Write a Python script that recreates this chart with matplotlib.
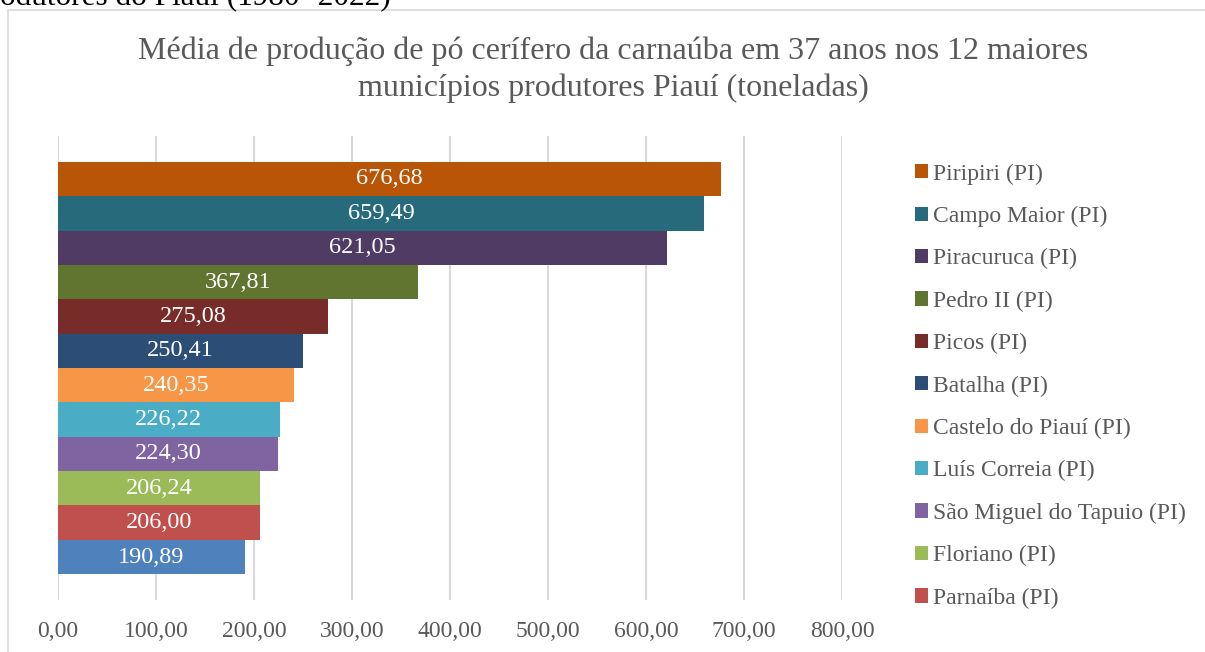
import matplotlib.pyplot as plt
from matplotlib.patches import Rectangle, Patch

municipios = ['Piripiri (PI)', 'Campo Maior (PI)', 'Piracuruca (PI)', 'Pedro II (PI)',
              'Picos (PI)', 'Batalha (PI)', 'Castelo do Piauí (PI)', 'Luís Correia (PI)',
              'São Miguel do Tapuio (PI)', 'Floriano (PI)', 'Parnaíba (PI)', '(sem legenda)']
medias = [676.68, 659.49, 621.05, 367.81, 275.08, 250.41, 240.35, 226.22,
          224.30, 206.24, 206.00, 190.89]
cores = ['#B85507', '#276A7C', '#4F3B63', '#5F7530', '#772C2A', '#2C4D75',
         '#F79646', '#4BACC6', '#8064A2', '#9BBB59', '#C0504D', '#4F81BD']
xticks = [0, 100, 200, 300, 400, 500, 600, 700, 800]

plt.rcParams['font.family'] = ['Liberation Serif', 'DejaVu Serif']
W, H = 1205, 652
fig = plt.figure(figsize=(W / 100, H / 100), dpi=100)

# moldura do gráfico e resto do título do documento (cortado no original)
fig.patches.append(Rectangle((8 / W, -0.05), 1.2, (H - 10) / H + 0.05, transform=fig.transFigure,
                             fill=False, edgecolor='#D9D9D9', linewidth=1.2))
fig.text(0 / W, 1 - 5 / H, 'odutores do Piauí (1980- 2022)', fontsize=22.5, color='black',
         ha='left', va='baseline')

ax = fig.add_axes([58 / W, 52 / H, 784 / W, 464 / H])
n = len(medias)
pos = list(range(n))
ax.barh(pos, medias, height=1.0, color=cores)
for p, v in zip(pos, medias):
    ax.text(v / 2, p, f'{v:.2f}'.replace('.', ','), color='white', fontsize=17.5,
            ha='center', va='center')

ax.set_xlim(0, 800)
ax.set_ylim(n - 0.5 + 0.75, -0.5 - 0.75)
ax.set_xticks(xticks)
ax.set_xticklabels([f'{t:.2f}'.replace('.', ',') for t in xticks], fontsize=17, color='#595959')
ax.set_yticks([])
ax.tick_params(axis='x', length=0, pad=15)
for s in ax.spines.values():
    s.set_visible(False)
ax.grid(axis='x', color='#D9D9D9', linewidth=1.5)
ax.set_axisbelow(True)

fig.text(613 / W, 1 - 70 / H,
         'Média de produção de pó cerífero da carnaúba em 37 anos nos 12 maiores\nmunicípios produtores Piauí (toneladas)',
         fontsize=23, color='#595959', ha='center', va='center', linespacing=1.32)

handles = [Patch(facecolor=c, label=m) for m, c in zip(municipios[:11], cores[:11])]
fig.legend(handles=handles, loc='upper left', bbox_to_anchor=(906 / W, 1 - 154 / H),
           frameon=False, fontsize=17, labelcolor='#595959', handlelength=0.55,
           handleheight=0.55, handletextpad=0.2, labelspacing=0.9, borderaxespad=0)

fig.savefig('out.png', dpi=100)
